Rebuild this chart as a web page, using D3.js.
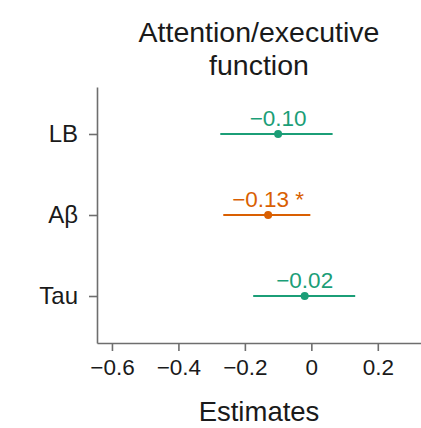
<!DOCTYPE html>
<html>
<head>
<meta charset="utf-8">
<script src="https://cdn.jsdelivr.net/npm/d3@7"></script>
<style>
  body { margin: 0; background: #fff; }
  svg { display: block; font-family: "Liberation Sans", Arial, sans-serif; }
  .axis path, .axis line { stroke: #6e6e6e; stroke-width: 1.6; }
  .axis text { fill: #1a1a1a; }
</style>
</head>
<body>
<div id="chart"></div>
<script>
const title = ['Attention/executive', 'function'];
const categories = ['LB', 'Aβ', 'Tau'];
const estimates = [-0.10, -0.13, -0.02];
const lower = [-0.274, -0.265, -0.175];
const upper = [0.064, -0.003, 0.132];
const labels = ['−0.10', '−0.13 *', '−0.02'];
const significant = [false, true, false];
const xTicks = [-0.6, -0.4, -0.2, 0, 0.2];

const width = 421, height = 428;
const margin = { top: 87, right: 0, bottom: 85, left: 97 };
const innerW = width - margin.left - margin.right,
  innerH = height - margin.top - margin.bottom;

const green = '#1b9e77', orange = '#d95f02';

const data = categories.map((c, i) => ({
  cat: c, est: estimates[i], lo: lower[i], hi: upper[i],
  label: labels[i], sig: significant[i]
}));

const svg = d3.select('#chart').append('svg')
  .attr('width', width)
  .attr('height', height);

const g = svg.append('g')
  .attr('transform', `translate(${margin.left}, ${margin.top})`);

const x = d3.scaleLinear()
  .domain([-0.645, 0.33])
  .range([0, innerW]);
const y = d3.scalePoint()
  .domain(categories)
  .range([0, innerH])
  .padding(0.58);

const fmt = d => d === 0 ? '0' : d3.format('.1f')(d).replace('-', '−');

const xAxis = g.append('g')
  .attr('class', 'x axis')
  .attr('transform', `translate(0, ${innerH})`)
  .call(d3.axisBottom(x).tickValues(xTicks).tickFormat(fmt).tickSize(8).tickPadding(8).tickSizeOuter(0));
xAxis.selectAll('text').style('font-size', '22.5px');

const yAxis = g.append('g')
  .attr('class', 'y axis')
  .call(d3.axisLeft(y).tickSize(8).tickPadding(11).tickSizeOuter(0));
yAxis.selectAll('text').style('font-size', '24px');

const rows = g.selectAll('.row')
  .data(data)
  .enter().append('g')
  .attr('class', 'row');

rows.append('line')
  .attr('x1', d => x(d.lo))
  .attr('x2', d => x(d.hi))
  .attr('y1', d => y(d.cat))
  .attr('y2', d => y(d.cat))
  .attr('stroke', d => d.sig ? orange : green)
  .attr('stroke-width', 2);

rows.append('circle')
  .attr('cx', d => x(d.est))
  .attr('cy', d => y(d.cat))
  .attr('r', 4)
  .attr('fill', d => d.sig ? orange : green);

rows.append('text')
  .attr('x', d => x(d.est))
  .attr('y', d => y(d.cat) - 8)
  .attr('text-anchor', 'middle')
  .attr('fill', d => d.sig ? orange : green)
  .style('font-size', '22.5px')
  .text(d => d.label);

svg.append('text')
  .attr('x', margin.left + innerW / 2)
  .attr('y', 421)
  .attr('text-anchor', 'middle')
  .attr('fill', '#1a1a1a')
  .style('font-size', '27.5px')
  .text('Estimates');

svg.append('text')
  .attr('text-anchor', 'middle')
  .attr('fill', '#1a1a1a')
  .style('font-size', '28.5px')
  .selectAll('tspan')
  .data(title)
  .enter().append('tspan')
  .attr('x', margin.left + innerW / 2)
  .attr('y', (d, i) => 42 + i * 33)
  .text(d => d);
</script>
</body>
</html>
